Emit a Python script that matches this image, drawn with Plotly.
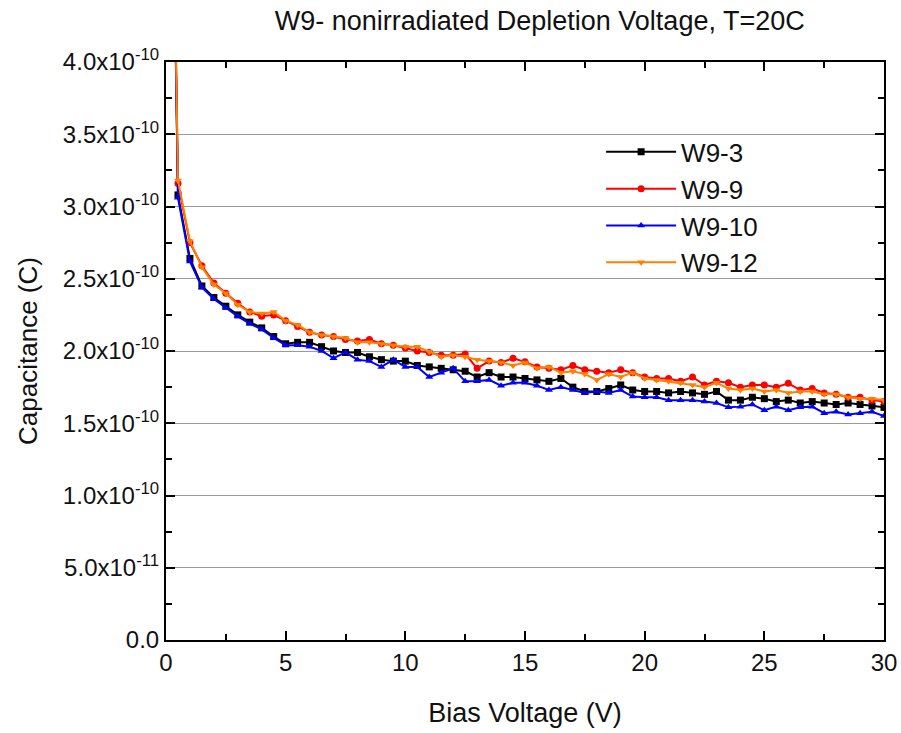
import plotly.graph_objects as go

# Bias voltage (V)
voltage = [i * 0.5 for i in range(61)]

# Capacitance values in units of 1e-10 C
w9_3 = [8.4, 3.08, 2.64, 2.45, 2.37, 2.31, 2.25, 2.20, 2.16, 2.10, 2.05, 2.06, 2.06, 2.03, 2.00, 1.99,
        1.99, 1.96, 1.94, 1.93, 1.93, 1.90, 1.89, 1.88, 1.87, 1.86, 1.82, 1.85, 1.82, 1.82, 1.81,
        1.80, 1.79, 1.81, 1.75, 1.72, 1.72, 1.74, 1.765, 1.73, 1.72, 1.72, 1.71, 1.72, 1.71, 1.70,
        1.72, 1.66, 1.66, 1.68, 1.67, 1.65, 1.66, 1.64, 1.65, 1.64, 1.63, 1.64, 1.63, 1.62, 1.61]
w9_9 = [8.4, 3.16, 2.75, 2.59, 2.47, 2.40, 2.33, 2.27, 2.24, 2.25, 2.21, 2.17, 2.13, 2.11, 2.10, 2.08,
        2.07, 2.08, 2.05, 2.04, 2.02, 2.00, 1.99, 1.97, 1.97, 1.98, 1.88, 1.93, 1.92, 1.95, 1.925,
        1.89, 1.88, 1.87, 1.90, 1.87, 1.86, 1.85, 1.87, 1.85, 1.82, 1.81, 1.81, 1.79, 1.82, 1.765,
        1.79, 1.78, 1.75, 1.765, 1.765, 1.75, 1.776, 1.73, 1.74, 1.71, 1.70, 1.68, 1.68, 1.66, 1.65]
w9_10 = [8.4, 3.06, 2.62, 2.44, 2.36, 2.30, 2.24, 2.19, 2.15, 2.09, 2.04, 2.04, 2.03, 2.00, 1.95, 1.99,
         1.94, 1.93, 1.89, 1.94, 1.89, 1.89, 1.82, 1.85, 1.88, 1.79, 1.79, 1.80, 1.76, 1.78, 1.78,
         1.76, 1.73, 1.75, 1.73, 1.71, 1.72, 1.71, 1.73, 1.685, 1.68, 1.68, 1.66, 1.66, 1.66, 1.65,
         1.64, 1.61, 1.615, 1.63, 1.59, 1.615, 1.59, 1.61, 1.615, 1.57, 1.58, 1.56, 1.57, 1.58, 1.55]
w9_12 = [8.4, 3.18, 2.76, 2.58, 2.46, 2.40, 2.32, 2.27, 2.26, 2.27, 2.21, 2.18, 2.13, 2.11, 2.10, 2.09,
         2.06, 2.06, 2.05, 2.04, 2.03, 2.03, 1.995, 1.96, 1.97, 1.96, 1.94, 1.93, 1.92, 1.90, 1.92,
         1.88, 1.89, 1.85, 1.86, 1.84, 1.80, 1.84, 1.82, 1.85, 1.81, 1.80, 1.79, 1.78, 1.765, 1.75,
         1.78, 1.74, 1.73, 1.74, 1.72, 1.73, 1.71, 1.72, 1.72, 1.70, 1.70, 1.68, 1.67, 1.67, 1.66]

scale = 1e-10

series_names = ["W9-3", "W9-9", "W9-10", "W9-12"]
series_values = [w9_3, w9_9, w9_10, w9_12]
series_colors = ["#000000", "#FF0000", "#0000FF", "#FF8000"]
series_symbols = ["square", "circle", "triangle-up", "triangle-down"]

y_tick_vals = [0.0, 0.5, 1.0, 1.5, 2.0, 2.5, 3.0, 3.5, 4.0]
y_tick_text = ["0.0", "5.0x10<sup>-11</sup>", "1.0x10<sup>-10</sup>", "1.5x10<sup>-10</sup>",
               "2.0x10<sup>-10</sup>", "2.5x10<sup>-10</sup>", "3.0x10<sup>-10</sup>",
               "3.5x10<sup>-10</sup>", "4.0x10<sup>-10</sup>"]
x_tick_vals = [0, 5, 10, 15, 20, 25, 30]

fig = go.Figure()
for name, vals, color, sym in zip(series_names, series_values, series_colors, series_symbols):
    fig.add_trace(go.Scatter(
        x=voltage, y=[v * scale for v in vals], name=name, mode="lines+markers",
        line=dict(color=color, width=2),
        marker=dict(symbol=sym, size=7, color=color),
    ))

font_family = "Liberation Sans, Arial, sans-serif"
fig.update_layout(
    width=901, height=733,
    margin=dict(l=166, r=17, t=62, b=93, autoexpand=False),
    paper_bgcolor="white", plot_bgcolor="white",
    font=dict(family=font_family, color="#111111"),
    title=dict(text="W9- nonirradiated Depletion Voltage, T=20C", x=0.599, xanchor="center",
               y=0.972, yanchor="middle", font=dict(size=27, color="#111111")),
    legend=dict(x=0.606, y=0.885, xanchor="left", yanchor="top", bgcolor="rgba(0,0,0,0)",
                font=dict(size=26, color="#111111"), tracegroupgap=0, itemwidth=70),
    showlegend=True,
)
fig.update_xaxes(
    range=[0, 30], tickvals=x_tick_vals, ticks="inside", ticklen=9, tickwidth=1.5,
    tickcolor="black", showline=True, linecolor="black", linewidth=2, mirror="allticks",
    showgrid=False, zeroline=False, tickfont=dict(size=24), automargin=False,
    minor=dict(tickvals=[2.5, 7.5, 12.5, 17.5, 22.5, 27.5], ticks="inside", ticklen=6,
               tickcolor="black", tickwidth=1.5, showgrid=False),
    title=dict(text="Bias Voltage (V)", font=dict(size=27), standoff=28),
)
fig.update_yaxes(
    range=[0, 4.0e-10], tickvals=[v * scale for v in y_tick_vals], ticktext=y_tick_text,
    ticks="inside", ticklen=9, tickwidth=1.5, tickcolor="black",
    showline=True, linecolor="black", linewidth=2, mirror="allticks",
    showgrid=True, gridcolor="#9a9a9a", gridwidth=1, zeroline=False, tickfont=dict(size=24),
    automargin=False,
    minor=dict(tickvals=[(v + 0.25) * scale for v in y_tick_vals[:-1]], ticks="inside",
               ticklen=6, tickcolor="black", tickwidth=1.5, showgrid=False),
    title=dict(text="Capacitance (C)", font=dict(size=26), standoff=18),
)

fig.write_html("out.html", config={"displayModeBar": False},
               post_script="document.body.style.margin='0';document.body.style.overflow='hidden';")
